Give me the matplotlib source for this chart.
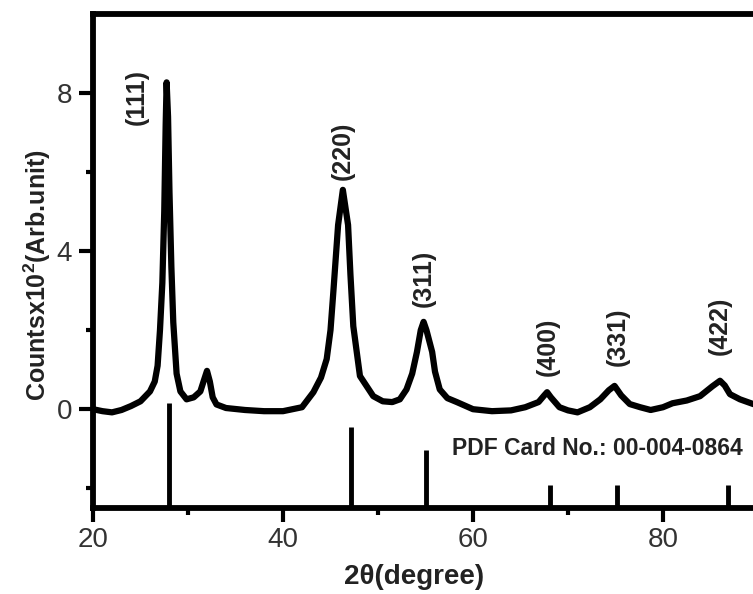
import matplotlib
matplotlib.use('Agg')
import matplotlib.pyplot as plt
from matplotlib.ticker import FixedLocator

plt.rcParams['font.family'] = ['Liberation Sans', 'DejaVu Sans']
plt.rcParams['mathtext.fontset'] = 'custom'
plt.rcParams['mathtext.rm'] = 'Liberation Sans'
plt.rcParams['mathtext.bf'] = 'Liberation Sans:bold'

two_theta = [20.0, 21.0, 22.0, 23.0, 24.0, 25.0, 26.0, 26.5, 26.8, 27.05,
             27.3, 27.5, 27.65, 27.75, 27.9, 28.05, 28.25, 28.45, 28.8, 29.2,
             29.85, 30.6, 31.3, 31.7, 32.0, 32.3, 32.6, 33.0, 34.0, 36.0,
             38.0, 40.0, 42.0, 43.2, 44.0, 44.6, 45.0, 45.3, 45.8, 46.3,
             46.85, 47.1, 47.4, 48.1, 49.5, 50.5, 51.5, 52.3, 53.0, 53.6,
             54.1, 54.5, 54.8, 55.1, 55.7, 56.0, 56.5, 57.3, 58.3, 60.0,
             62.0, 64.0, 65.5, 66.9, 67.5, 67.8, 68.2, 69.1, 70.0, 71.0,
             72.3, 73.4, 74.3, 74.9, 75.6, 76.5, 77.6, 78.7, 80.0, 81.0,
             82.5, 83.9, 85.2, 86.0, 86.5, 87.05, 88.1, 89.5, 90.0]
counts = [0.0, -0.05, -0.08, -0.02, 0.08, 0.2, 0.45, 0.7, 1.1, 2.0,
          3.2, 5.0, 7.2, 8.27, 7.4, 5.5, 3.6, 2.2, 0.9, 0.45,
          0.25, 0.3, 0.45, 0.75, 0.97, 0.7, 0.3, 0.12, 0.03, -0.02,
          -0.05, -0.05, 0.05, 0.43, 0.8, 1.27, 2.0, 2.97, 4.66, 5.55,
          4.66, 3.4, 2.1, 0.84, 0.33, 0.2, 0.18, 0.25, 0.5, 0.9,
          1.45, 2.0, 2.21, 2.0, 1.45, 0.95, 0.5, 0.28, 0.18, 0.0,
          -0.05, -0.03, 0.05, 0.18, 0.35, 0.43, 0.3, 0.05, -0.03, -0.08,
          0.05, 0.25, 0.48, 0.59, 0.35, 0.13, 0.05, -0.02, 0.05, 0.15,
          0.22, 0.33, 0.58, 0.72, 0.6, 0.38, 0.25, 0.13, 0.12]

# reference card lines (PDF 00-004-0864)
ref_pos = [28.0, 47.2, 55.05, 68.1, 75.2, 86.8]
ref_top = [0.15, -0.46, -1.02, -1.91, -1.91, -1.91]

# peak labels
hkl = ['(111)', '(220)', '(311)', '(400)', '(331)', '(422)']
hkl_x = [24.6, 46.3, 54.8, 67.9, 75.2, 86.0]
hkl_y = [7.9, 6.55, 3.31, 1.58, 1.84, 2.12]

fig = plt.figure(figsize=(7.53, 5.94), dpi=100)
ax = fig.add_axes([93 / 753, 86 / 594, 665 / 753, 494 / 594])

ax.plot(two_theta, counts, color='black', lw=4.5, solid_joinstyle='round')
ax.vlines(ref_pos, -2.5, ref_top, color='black', lw=3.5)

for lab, x, y in zip(hkl, hkl_x, hkl_y):
    ax.text(x, y, lab, rotation=90, ha='center', va='center',
            fontsize=18, fontweight='bold', color='#222222')

ax.text(57.8, -1.0, 'PDF Card No.: 00-004-0864', ha='left', va='center',
        fontsize=16.5, fontweight='bold', color='#222222')

ax.set_xlim(20, 90)
ax.set_ylim(-2.5, 10)
ax.xaxis.set_major_locator(FixedLocator([20, 40, 60, 80]))
ax.xaxis.set_minor_locator(FixedLocator([30, 50, 70, 90]))
ax.yaxis.set_major_locator(FixedLocator([0, 4, 8]))
ax.yaxis.set_minor_locator(FixedLocator([-2, 2, 6]))
ax.tick_params(which='major', direction='out', length=10, width=3,
               labelsize=20, labelcolor='#333333', pad=4)
ax.tick_params(which='minor', direction='out', length=5, width=3)
ax.tick_params(axis='y', which='major', pad=5)

for s in ax.spines.values():
    s.set_linewidth(4.2)

fig.text(37 / 753, 1 - 275 / 594, 'Countsx10$^\\mathbf{2}$(Arb.unit)',
         rotation=90, ha='center', va='center', fontsize=18,
         fontweight='bold', color='#222222')
fig.text(414 / 753, 1 - 577 / 594, '2\u03b8(degree)', ha='center', va='center',
         fontsize=20, fontweight='bold', color='#222222')

fig.savefig('out.png', dpi=100)
